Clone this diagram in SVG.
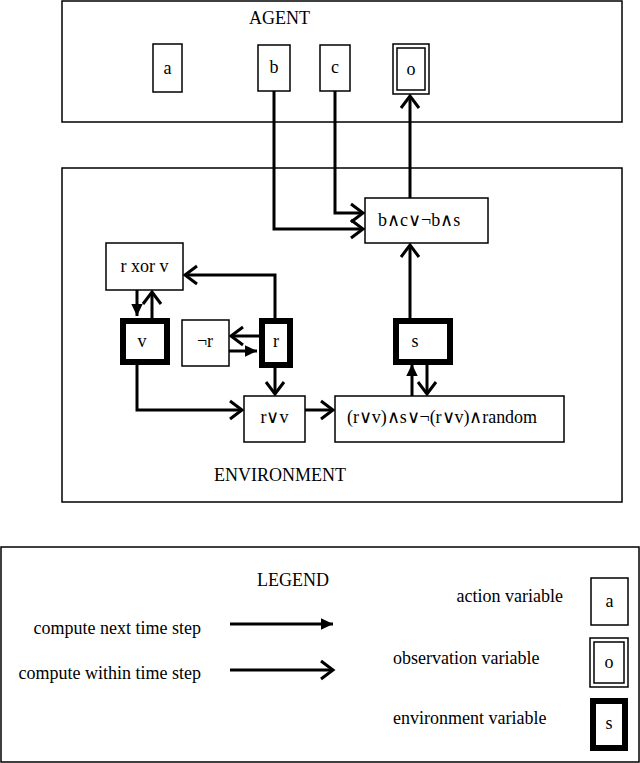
<svg xmlns="http://www.w3.org/2000/svg" width="640" height="763" viewBox="0 0 640 763" font-family="Liberation Serif, Times New Roman, serif" font-size="18">
<style>
.frame{fill:none;stroke:#000;stroke-width:1.5}
.box{fill:#fff;stroke:#000;stroke-width:1.5}
.env{fill:#fff;stroke:#000;stroke-width:6}
.c{fill:none;stroke:#000;stroke-width:3}
.n{marker-end:url(#tri)}
.w{marker-end:url(#chev)}
</style>
<defs>
<marker id="tri" markerWidth="5" markerHeight="5" refX="4" refY="2.5" orient="auto" markerUnits="strokeWidth"><path d="M0,0.6 L4,2.5 L0,4.4z" fill="#000"/></marker>
<marker id="chev" markerWidth="8" markerHeight="8" refX="5" refY="4" orient="auto" markerUnits="strokeWidth"><path d="M1,1 L5,4 L1,7" fill="none" stroke="#000" stroke-width="1"/></marker>
</defs>
<rect x="0" y="0" width="640" height="763" fill="#fff"/>
<rect class="frame" x="62" y="1" width="560" height="121"/>
<text x="249" y="24">AGENT</text>
<rect class="frame" x="62" y="168" width="560" height="334"/>
<text x="214" y="481">ENVIRONMENT</text>
<rect class="frame" x="1" y="547" width="638" height="215"/>
<text x="257" y="586">LEGEND</text>
<g id="connectors">
<path class="c w" d="M274,91 V229 H363"/>
<path class="c w" d="M335,91 V213 H363"/>
<path class="c w" d="M410,198 V96"/>
<path class="c w" d="M410,318 V245"/>
<path class="c w" d="M275,318 V275 H185"/>
<path class="c n" d="M137,290 V316"/>
<path class="c w" d="M152,318 V292"/>
<path class="c w" d="M259,336 H231"/>
<path class="c n" d="M229,351 H257"/>
<path class="c w" d="M275,366 V394"/>
<path class="c w" d="M137,362 V410 H242"/>
<path class="c w" d="M305,410 H333"/>
<path class="c n" d="M412,396 V364"/>
<path class="c w" d="M427,362 V394"/>
<path class="c n" d="M230,624 H333"/>
<path class="c w" d="M230,670 H333"/>
</g>
<g id="a"><rect class="box" x="153" y="44" width="29" height="48"/><text x="167.5" y="74" text-anchor="middle">a</text></g>
<g id="b"><rect class="box" x="258" y="45" width="32" height="46"/><text x="274" y="73" text-anchor="middle">b</text></g>
<g id="c"><rect class="box" x="320" y="45" width="30" height="46"/><text x="335" y="73" text-anchor="middle">c</text></g>
<g id="o"><rect class="box" x="393" y="44" width="36" height="50"/><rect fill="none" stroke="#000" stroke-width="1.5" x="397" y="48" width="28" height="42"/><text x="411" y="75" text-anchor="middle">o</text></g>
<g id="obs"><rect class="box" x="365" y="198" width="123" height="45"/><text x="378" y="226">b∧c∨¬b∧s</text></g>
<g id="rxorv"><rect class="box" x="106" y="243" width="77" height="47"/><text x="144.5" y="272" text-anchor="middle">r xor v</text></g>
<g id="v"><rect class="env" x="123" y="321" width="44" height="41"/><text x="142" y="347" text-anchor="middle">v</text></g>
<g id="notr"><rect class="box" x="182" y="320" width="47" height="46"/><text x="205" y="347" text-anchor="middle">¬r</text></g>
<g id="r"><rect class="env" x="262" y="321" width="28" height="44"/><text x="276" y="347" text-anchor="middle">r</text></g>
<g id="s"><rect class="env" x="396" y="321" width="54" height="41"/><text x="415" y="347" text-anchor="middle">s</text></g>
<g id="rorv"><rect class="box" x="244" y="396" width="61" height="46"/><text x="274.5" y="423" text-anchor="middle">r∨v</text></g>
<g id="rand"><rect class="box" x="335" y="396" width="229" height="46"/><text x="347" y="423" textLength="190">(r∨v)∧s∨¬(r∨v)∧random</text></g>
<g id="legend">
<text x="201" y="634" text-anchor="end">compute next time step</text>
<text x="201" y="679" text-anchor="end">compute within time step</text>
<text x="563" y="602" text-anchor="end">action variable</text>
<text x="393" y="664">observation variable</text>
<text x="393" y="724">environment variable</text>
<rect class="box" x="591" y="578" width="37" height="47"/><text x="609.5" y="607" text-anchor="middle">a</text>
<rect class="box" x="590" y="638" width="38" height="49"/><rect fill="none" stroke="#000" stroke-width="1.5" x="594" y="642" width="30" height="41"/><text x="609" y="668" text-anchor="middle">o</text>
<rect class="env" x="593" y="701" width="32" height="47"/><text x="609" y="729" text-anchor="middle">s</text>
</g>
</svg>
